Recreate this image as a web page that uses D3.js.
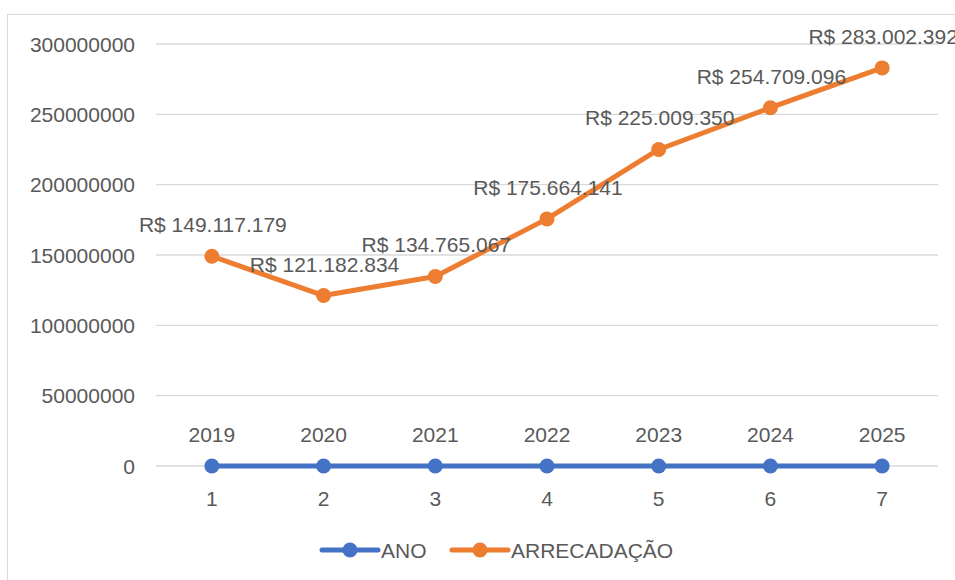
<!DOCTYPE html>
<html>
<head>
<meta charset="utf-8">
<script src="https://cdn.jsdelivr.net/npm/d3@7"></script>
<style>
  body { margin: 0; background: #fff; }
  text { font-family: "Liberation Sans", Arial, sans-serif; fill: #595959; }
</style>
</head>
<body>
<div id="chart"></div>
<script>
// categories and series
const categories = [1, 2, 3, 4, 5, 6, 7];
const ano = [2019, 2020, 2021, 2022, 2023, 2024, 2025];
const arrecadacao = [149117179, 121182834, 134765067, 175664141, 225009350, 254709096, 283002392];
const arrecadacaoLabels = ["R$ 149.117.179", "R$ 121.182.834", "R$ 134.765.067", "R$ 175.664.141",
    "R$ 225.009.350", "R$ 254.709.096", "R$ 283.002.392"];
const yTicks = [0, 50000000, 100000000, 150000000, 200000000, 250000000, 300000000];
const seriesNames = ["ANO", "ARRECADAÇÃO"];

const width = 955, height = 580;
const blue = "#4472C4", orange = "#ED7D31";

const svg = d3.select("#chart").append("svg")
    .attr("width", width)
    .attr("height", height);

// chart frame
svg.append("rect")
    .attr("x", 7.5).attr("y", 14.5)
    .attr("width", 960).attr("height", 600)
    .attr("fill", "none")
    .attr("stroke", "#d9d9d9");

const x = d3.scaleBand()
    .domain(categories)
    .range([156, 938]);

const y = d3.scaleLinear()
    .domain([0, 300000000])
    .range([466, 44]);

const cx = d => x(d) + x.bandwidth() / 2;

// grid
svg.append("g").selectAll("line")
    .data(yTicks)
    .enter().append("line")
    .attr("x1", 156).attr("x2", 938)
    .attr("y1", d => y(d)).attr("y2", d => y(d))
    .attr("stroke", "#d9d9d9")
    .attr("stroke-width", 1.3);

// y labels
svg.append("g").selectAll("text")
    .data(yTicks)
    .enter().append("text")
    .attr("x", 135)
    .attr("y", d => y(d))
    .attr("dy", "0.36em")
    .attr("text-anchor", "end")
    .attr("font-size", 21)
    .text(d => d);

// x labels (below zero line)
svg.append("g").selectAll("text")
    .data(categories)
    .enter().append("text")
    .attr("x", d => cx(d))
    .attr("y", y(0) + 40)
    .attr("text-anchor", "middle")
    .attr("font-size", 21)
    .text(d => d);

const line = d3.line()
    .x((d, i) => cx(categories[i]))
    .y(d => y(d));

function drawSeries(values, color) {
    svg.append("path")
        .datum(values)
        .attr("d", line)
        .attr("fill", "none")
        .attr("stroke", color)
        .attr("stroke-width", 5)
        .attr("stroke-linejoin", "round");
    svg.append("g").selectAll("circle")
        .data(values)
        .enter().append("circle")
        .attr("cx", (d, i) => cx(categories[i]))
        .attr("cy", d => y(d))
        .attr("r", 7.5)
        .attr("fill", color);
}

drawSeries(ano, blue);
drawSeries(arrecadacao, orange);

// data labels
svg.append("g").selectAll("text")
    .data(ano)
    .enter().append("text")
    .attr("x", (d, i) => cx(categories[i]))
    .attr("y", d => y(d) - 24)
    .attr("text-anchor", "middle")
    .attr("font-size", 21)
    .text(d => d);

svg.append("g").selectAll("text")
    .data(arrecadacao)
    .enter().append("text")
    .attr("x", (d, i) => cx(categories[i]) + 1)
    .attr("y", d => y(d) - 24)
    .attr("text-anchor", "middle")
    .attr("font-size", 21)
    .text((d, i) => arrecadacaoLabels[i]);

// legend
const legendItems = [
    {name: seriesNames[0], color: blue, x: 322},
    {name: seriesNames[1], color: orange, x: 452}
];
const lg = svg.append("g").selectAll("g")
    .data(legendItems)
    .enter().append("g")
    .attr("transform", d => "translate(" + d.x + ",550)");
lg.append("line")
    .attr("x1", 0).attr("x2", 56)
    .attr("stroke", d => d.color)
    .attr("stroke-width", 5)
    .attr("stroke-linecap", "round");
lg.append("circle")
    .attr("cx", 28).attr("r", 7.5)
    .attr("fill", d => d.color);
lg.append("text")
    .attr("x", 59)
    .attr("dy", "0.36em")
    .attr("font-size", 21)
    .text(d => d.name);
</script>
</body>
</html>
